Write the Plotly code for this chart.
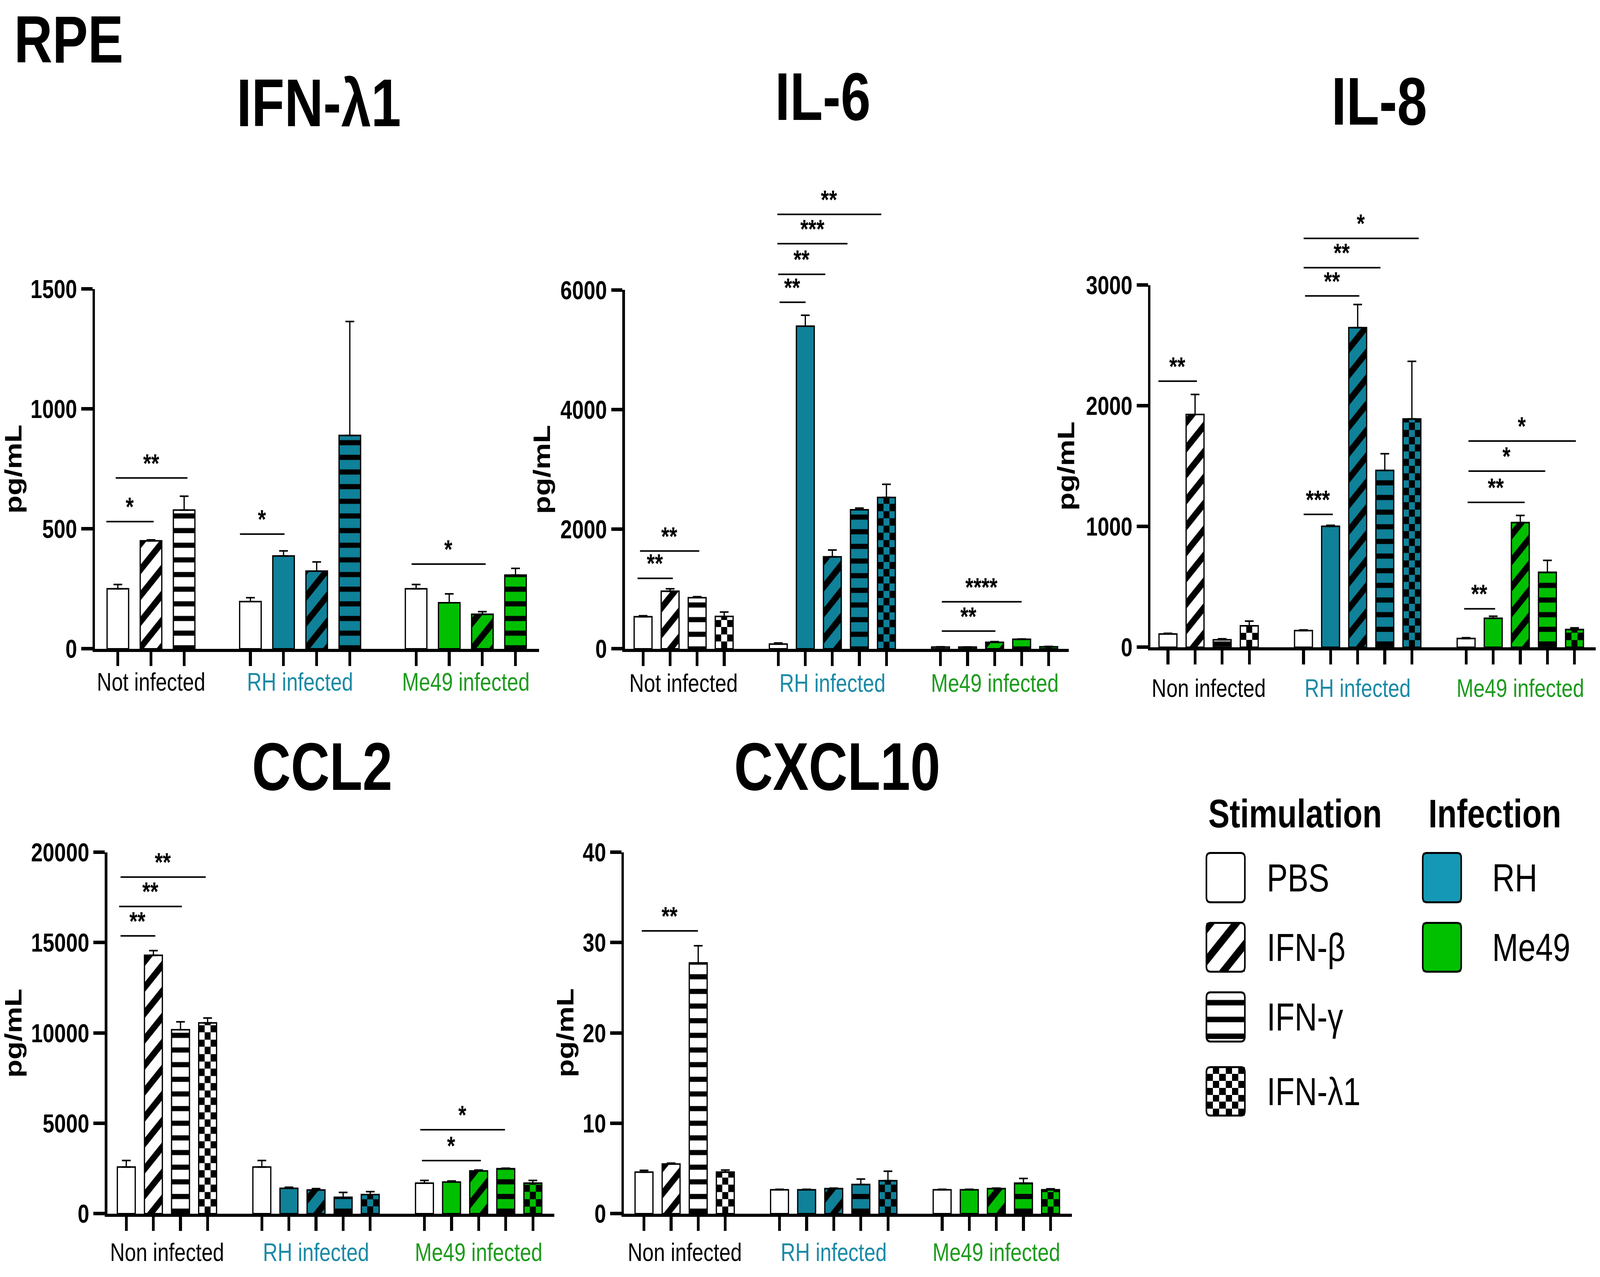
import plotly.graph_objects as go
import numpy as np

W, H = 5118, 3269
FONT = "Liberation Sans"

# ---------------- data ----------------
GROUPS_A = ["Not infected", "RH infected", "Me49 infected"]
GROUPS_B = ["Non infected", "RH infected", "Me49 infected"]

# stimulation per bar ("Mock" = white control bar inside infected group)
STIM_3 = [["PBS", "IFN-β", "IFN-γ"],
          ["Mock", "PBS", "IFN-β", "IFN-γ"],
          ["Mock", "PBS", "IFN-β", "IFN-γ"]]
STIM_4 = [["PBS", "IFN-β", "IFN-γ", "IFN-λ1"],
          ["Mock", "PBS", "IFN-β", "IFN-γ", "IFN-λ1"],
          ["Mock", "PBS", "IFN-β", "IFN-γ", "IFN-λ1"]]

IFNL1_MEAN = [[250, 450, 578], [197, 387, 324, 889], [250, 192, 144, 307]]
IFNL1_SEM = [[18, 4, 58], [16, 21, 38, 475], [18, 37, 11, 28]]

IL6_MEAN = [[536, 963, 855, 541], [80, 5396, 1538, 2325, 2530], [28, 28, 108, 160, 34]]
IL6_SEM = [[17, 40, 17, 74], [17, 182, 114, 28, 222], [5, 3, 12, 5, 6]]

IL8_MEAN = [[110, 1928, 62, 178], [138, 1002, 2647, 1465, 1891], [73, 240, 1033, 621, 147]]
IL8_SEM = [[6, 166, 8, 39], [6, 8, 192, 138, 477], [6, 17, 59, 99, 14]]

CCL2_MEAN = [[2579, 14299, 10181, 10558], [2579, 1403, 1312, 905, 1056], [1689, 1750, 2368, 2489, 1689]]
CCL2_SEM = [[362, 256, 437, 272], [362, 60, 76, 271, 166], [151, 60, 45, 30, 151]]

CXCL10_MEAN = [[4.6, 5.5, 27.75, 4.6], [2.65, 2.65, 2.78, 3.23, 3.65], [2.65, 2.65, 2.78, 3.38, 2.65]]
CXCL10_SEM = [[0.2, 0.1, 1.9, 0.23], [0.05, 0.05, 0.05, 0.6, 1.05], [0.05, 0.05, 0.05, 0.52, 0.1]]

# significance brackets: (from slot, to slot, level, label)
IFNL1_SIG = [(-0.36, 1.08, 530, "*"), (-0.08, 2.10, 712, "**"),
             (3.67, 5.03, 478, "*"), (8.85, 11.10, 353, "*")]
IL6_SIG = [(-0.22, 1.10, 1179, "**"), (-0.13, 2.08, 1635, "**"),
           (5.03, 6.01, 5795, "**"), (4.98, 6.74, 6262, "**"),
           (4.95, 7.56, 6775, "***"), (4.95, 8.81, 7265, "**"),
           (11.03, 13.03, 296, "**"), (11.03, 14.0, 786, "****")]
IL8_SIG = [(-0.37, 1.07, 2204, "**"), (4.99, 6.08, 1101, "***"),
           (5.04, 7.06, 2910, "**"), (4.99, 7.84, 3144, "**"),
           (4.99, 9.25, 3387, "*"), (10.91, 12.07, 319, "**"),
           (11.04, 13.16, 1200, "**"), (11.07, 13.92, 1459, "*"),
           (11.07, 15.05, 1708, "*")]
CCL2_SIG = [(-0.23, 1.07, 15370, "**"), (-0.28, 2.05, 17000, "**"),
            (-0.23, 2.93, 18627, "**"), (10.89, 13.08, 2941, "*"),
            (10.83, 13.97, 4646, "*")]
CXCL10_SIG = [(-0.10, 1.99, 31.3, "**")]

# ---------------- styles ----------------
TEAL = "#0f8199"
GREEN = "#00bf00"
STRAIN_FILL = ["white", TEAL, GREEN]
LABEL_COLORS = ["black", "#1b8aa6", "#1d9b1d"]
PATTERN = {"PBS": "", "Mock": "", "IFN-β": "/", "IFN-γ": "-", "IFN-λ1": "checker"}
PAT_SIZE = {"/": 47, "-": 37.5}
PAT_SOLID = {"/": 0.38, "-": 0.35}


def PX(x):
    return x / W


def PY(y):
    return 1 - y / H


PANELS = [
    dict(name="IFN-λ1", mean=IFNL1_MEAN, sem=IFNL1_SEM, stim=STIM_3, sig=IFNL1_SIG, groups=GROUPS_A,
         ax_x=304, ax_end=1724, y0=1661, ytop=718, slot0=377, sp=106, bw=0.65, ymax=1500,
         ticks=[0, 500, 1000, 1500], title=(1020, 290), ytitle=(42, 1190), gy=1748),
    dict(name="IL-6", mean=IL6_MEAN, sem=IL6_SEM, stim=STIM_4, sig=IL6_SIG, groups=GROUPS_A,
         ax_x=1999, ax_end=3419, y0=1661, ytop=721, slot0=2057, sp=86.5, bw=0.66, ymax=6000,
         ticks=[0, 2000, 4000, 6000], title=(2632, 274), ytitle=(1733, 1191), gy=1751),
    dict(name="IL-8", mean=IL8_MEAN, sem=IL8_SEM, stim=STIM_4, sig=IL8_SIG, groups=GROUPS_B,
         ax_x=3680, ax_end=5104, y0=1657, ytop=708, slot0=3736, sp=86.7, bw=0.66, ymax=3000,
         ticks=[0, 1000, 2000, 3000], title=(4412, 286), ytitle=(3410, 1182), gy=1764),
    dict(name="CCL2", mean=CCL2_MEAN, sem=CCL2_SEM, stim=STIM_4, sig=CCL2_SIG, groups=GROUPS_B,
         ax_x=343, ax_end=1773, y0=3141, ytop=2194, slot0=404, sp=86.7, bw=0.66, ymax=20000,
         ticks=[0, 5000, 10000, 15000, 20000], title=(1030, 2029), ytitle=(43, 2668), gy=3242),
    dict(name="CXCL10", mean=CXCL10_MEAN, sem=CXCL10_SEM, stim=STIM_4, sig=CXCL10_SIG, groups=GROUPS_B,
         ax_x=1996, ax_end=3429, y0=3141, ytop=2194, slot0=2060, sp=86.7, bw=0.66, ymax=40,
         ticks=[0, 10, 20, 30, 40], title=(2678, 2029), ytitle=(1808, 2667), gy=3242),
]

fig = go.Figure()
annotations = []
shapes = []
layout_axes = {}

CHECK_PX = 19

for k, p in enumerate(PANELS, start=1):
    xa = "x" if k == 1 else f"x{k}"
    ya = "y" if k == 1 else f"y{k}"
    traces = {}   # (fill, pattern) -> lists
    checkers = []
    centers = []
    all_x = []
    slot = 0
    for g, (gm, gs, gst) in enumerate(zip(p["mean"], p["sem"], p["stim"])):
        start = slot
        for i, (m, s, st) in enumerate(zip(gm, gs, gst)):
            x = start + i
            fill = "white" if (g == 0 or st == "Mock") else STRAIN_FILL[g]
            pat = PATTERN[st]
            all_x.append(x)
            key = (fill, pat)
            t = traces.setdefault(key, dict(x=[], y=[], e=[]))
            t["x"].append(x)
            t["y"].append(m)
            t["e"].append(s)
            if pat == "checker":
                checkers.append((x, m, fill))
        centers.append(start + (len(gm) - 1) / 2)
        slot = start + len(gm) + 1

    # checkerboard fills (drawn beneath the bar outlines)
    sq = CHECK_PX * p["ymax"] / (p["y0"] - p["ytop"])
    for (x, m, fill) in checkers:
        n_full = int(m // sq)
        yedges = [r * sq for r in range(n_full + 1)]
        if m - yedges[-1] > 1e-9:
            yedges.append(m)
        xedges = list(np.linspace(x - p["bw"] / 2, x + p["bw"] / 2, 4))
        z = [[(r + c) % 2 for c in range(3)] for r in range(len(yedges) - 1)]
        fig.add_trace(go.Heatmap(
            x=xedges, y=yedges, z=z, zmin=0, zmax=1, showscale=False,
            colorscale=[[0, fill], [0.5, fill], [0.5, "black"], [1, "black"]],
            xaxis=xa, yaxis=ya, hoverinfo="skip"))

    for (fill, pat), t in traces.items():
        if pat == "checker":
            marker = dict(color="rgba(0,0,0,0)", line=dict(color="black", width=4))
        elif pat == "":
            marker = dict(color=fill, line=dict(color="black", width=4))
        else:
            marker = dict(color=fill, line=dict(color="black", width=4),
                          pattern=dict(shape=pat, bgcolor=fill, fgcolor="black", fgopacity=1,
                                       size=PAT_SIZE[pat], solidity=PAT_SOLID[pat], fillmode="replace"))
        fig.add_trace(go.Bar(
            x=t["x"], y=t["y"], width=p["bw"], xaxis=xa, yaxis=ya, showlegend=False,
            hoverinfo="skip", marker=marker,
            error_y=dict(type="data", array=t["e"], arrayminus=[0] * len(t["e"]), symmetric=False,
                         color="black", thickness=4, width=14)))

    xmin = (p["ax_x"] - p["slot0"]) / p["sp"]
    xmax = (p["ax_end"] - p["slot0"]) / p["sp"]
    axis_common = dict(showline=True, linewidth=8, linecolor="black", ticks="outside",
                       ticklen=36, tickwidth=9, tickcolor="black", showgrid=False,
                       zeroline=False, fixedrange=True)
    layout_axes["xaxis" if k == 1 else f"xaxis{k}"] = dict(
        domain=[PX(p["ax_x"]), PX(p["ax_end"])], range=[xmin, xmax], anchor=ya,
        tickvals=all_x, showticklabels=False, **axis_common)
    layout_axes["yaxis" if k == 1 else f"yaxis{k}"] = dict(
        domain=[PY(p["y0"]), PY(p["ytop"])], range=[0, p["ymax"]], anchor=xa,
        tickvals=p["ticks"], ticktext=[str(t) for t in p["ticks"]],
        tickfont=dict(family=FONT, size=67, color="black", weight="bold"), **axis_common)

    # panel title
    tx, tb = p["title"]
    annotations.append(dict(text=p["name"], xref="paper", yref="paper", x=PX(tx), y=PY(tb - 0.35 * 172),
                            xanchor="center", yanchor="middle", showarrow=False,
                            font=dict(family=FONT, size=172, color="black", weight="bold")))
    # y title
    yx, yy = p["ytitle"]
    annotations.append(dict(text="pg/mL", xref="paper", yref="paper", x=PX(yx), y=PY(yy),
                            xanchor="center", yanchor="middle", showarrow=False, textangle=-90,
                            font=dict(family=FONT, size=76, color="black", weight="bold")))
    # group labels
    for g, c in enumerate(centers):
        annotations.append(dict(text=p["groups"][g], xref=xa, yref="paper", x=c, y=PY(p["gy"]),
                                xanchor="center", yanchor="middle", showarrow=False,
                                font=dict(family=FONT, size=65, color=LABEL_COLORS[g])))
    # significance brackets (y given as a fraction of the axis, so they may sit above it)
    for (a, b, lvl, lab) in p["sig"]:
        fy = lvl / p["ymax"]
        annotations.append(dict(text="", xref=xa, yref=ya + " domain", axref=xa, ayref="pixel",
                                x=b, y=fy, ax=a, ay=0,
                                showarrow=True, arrowhead=0, arrowwidth=4, arrowcolor="black",
                                standoff=0, startstandoff=0))
        annotations.append(dict(text=lab, xref=xa, yref=ya + " domain", x=(a + b) / 2, y=fy, yshift=38,
                                xanchor="center", yanchor="middle", showarrow=False,
                                font=dict(family=FONT, size=66, color="black", weight="bold")))

# RPE label
annotations.append(dict(text="RPE", xref="paper", yref="paper", x=PX(43), y=PY(124 - 0.35 * 170),
                        xanchor="left", yanchor="middle", showarrow=False,
                        font=dict(family=FONT, size=170, color="black", weight="bold")))

# ---------------- legend (drawn on a hidden pixel-unit axis) ----------------
LEG_STIM = ["PBS", "IFN-β", "IFN-γ", "IFN-λ1"]
LEG_INF = ["RH", "Me49"]
LEG_INF_COLORS = ["#1598b5", "#00c000"]

stim_rows = [(2196, 2325), (2379, 2507), (2561, 2690), (2757, 2884)]
inf_rows = [(2196, 2325), (2379, 2507)]
sx0, sx1 = 3859, 3982
ix0, ix1 = 4551, 4674
LEG_SIZE = {"/": 58, "-": 43}
LEG_SOLID = {"/": 0.36, "-": 0.33}

for name, (t, b) in zip(LEG_STIM, stim_rows):
    pat = PATTERN[name]
    if pat == "checker":
        xe = list(np.linspace(sx0, sx1, 7))
        ye = list(np.linspace(t, b, 8))
        z = [[(r + c) % 2 for c in range(6)] for r in range(7)]
        fig.add_trace(go.Heatmap(x=xe, y=ye, z=z, zmin=0, zmax=1, showscale=False,
                                 colorscale=[[0, "white"], [0.5, "white"], [0.5, "black"], [1, "black"]],
                                 xaxis="x6", yaxis="y6", hoverinfo="skip"))
        continue
    marker = dict(color="white", line=dict(width=0))
    if pat:
        marker["pattern"] = dict(shape=pat, bgcolor="white", fgcolor="black", fgopacity=1,
                                 size=LEG_SIZE[pat], solidity=LEG_SOLID[pat], fillmode="replace")
    fig.add_trace(go.Bar(x=[(sx0 + sx1) / 2], y=[b - t], base=[t], width=sx1 - sx0,
                         xaxis="x6", yaxis="y6", showlegend=False, hoverinfo="skip", marker=marker))
for name, col, (t, b) in zip(LEG_INF, LEG_INF_COLORS, inf_rows):
    fig.add_trace(go.Bar(x=[(ix0 + ix1) / 2], y=[b - t], base=[t], width=ix1 - ix0,
                         xaxis="x6", yaxis="y6", showlegend=False, hoverinfo="skip",
                         marker=dict(color=col, line=dict(width=0))))


def rounded(x0, y0, x1, y1, r=13):
    return (f"M {x0 + r},{y0} L {x1 - r},{y0} Q {x1},{y0} {x1},{y0 + r} "
            f"L {x1},{y1 - r} Q {x1},{y1} {x1 - r},{y1} L {x0 + r},{y1} "
            f"Q {x0},{y1} {x0},{y1 - r} L {x0},{y0 + r} Q {x0},{y0} {x0 + r},{y0} Z")


for (t, b) in stim_rows:
    shapes.append(dict(type="path", path=rounded(sx0, t, sx1, b), xref="x6", yref="y6",
                       line=dict(color="black", width=5), fillcolor="rgba(0,0,0,0)"))
for (t, b) in inf_rows:
    shapes.append(dict(type="path", path=rounded(ix0, t, ix1, b), xref="x6", yref="y6",
                       line=dict(color="black", width=5), fillcolor="rgba(0,0,0,0)"))

layout_axes["xaxis6"] = dict(domain=[PX(3800), PX(5000)], range=[3800, 5000], anchor="y6",
                             visible=False, fixedrange=True)
layout_axes["yaxis6"] = dict(domain=[PY(2950), PY(1950)], range=[2950, 1950], anchor="x6",
                             visible=False, fixedrange=True)

annotations.append(dict(text="Stimulation", xref="paper", yref="paper", x=PX(3863), y=PY(2129 - 0.35 * 102),
                        xanchor="left", yanchor="middle", showarrow=False,
                        font=dict(family=FONT, size=102, color="black", weight="bold")))
annotations.append(dict(text="Infection", xref="paper", yref="paper", x=PX(4567), y=PY(2129 - 0.35 * 102),
                        xanchor="left", yanchor="middle", showarrow=False,
                        font=dict(family=FONT, size=102, color="black", weight="bold")))
for name, (t, b) in zip(LEG_STIM, stim_rows):
    annotations.append(dict(text=name, xref="paper", yref="paper", x=PX(4050), y=PY((t + b) / 2),
                            xanchor="left", yanchor="middle", showarrow=False,
                            font=dict(family=FONT, size=100, color="black")))
for name, (t, b) in zip(LEG_INF, inf_rows):
    annotations.append(dict(text=name, xref="paper", yref="paper", x=PX(4771), y=PY((t + b) / 2),
                            xanchor="left", yanchor="middle", showarrow=False,
                            font=dict(family=FONT, size=100, color="black")))

fig.update_layout(
    width=W, height=H, autosize=False, margin=dict(l=0, r=0, t=0, b=0, pad=0),
    paper_bgcolor="white", plot_bgcolor="rgba(0,0,0,0)", barmode="overlay",
    showlegend=False, annotations=annotations, shapes=shapes,
    font=dict(family=FONT, color="black"), **layout_axes)

# map the 5118x3269 design canvas onto the whole browser viewport
POST = ("var gd = document.getElementById('{plot_id}');"
        "var vw = window.innerWidth, vh = window.innerHeight;"
        "var sx = vw / 5118, sy = vh / 3269;"
        "document.documentElement.style.margin='0';document.documentElement.style.overflow='hidden';"
        "document.body.style.margin='0';document.body.style.overflow='hidden';"
        "document.body.style.height=vh + 'px';"
        "var wrap = gd.parentElement;"
        "wrap.style.width=vw + 'px';wrap.style.height=vh + 'px';"
        "wrap.style.overflow='hidden';"
        "gd.style.transformOrigin='0 0';gd.style.transform='scale(' + sx + ',' + sy + ')';")

fig.write_html("out.html", config={"displayModeBar": False, "staticPlot": True}, post_script=POST)
